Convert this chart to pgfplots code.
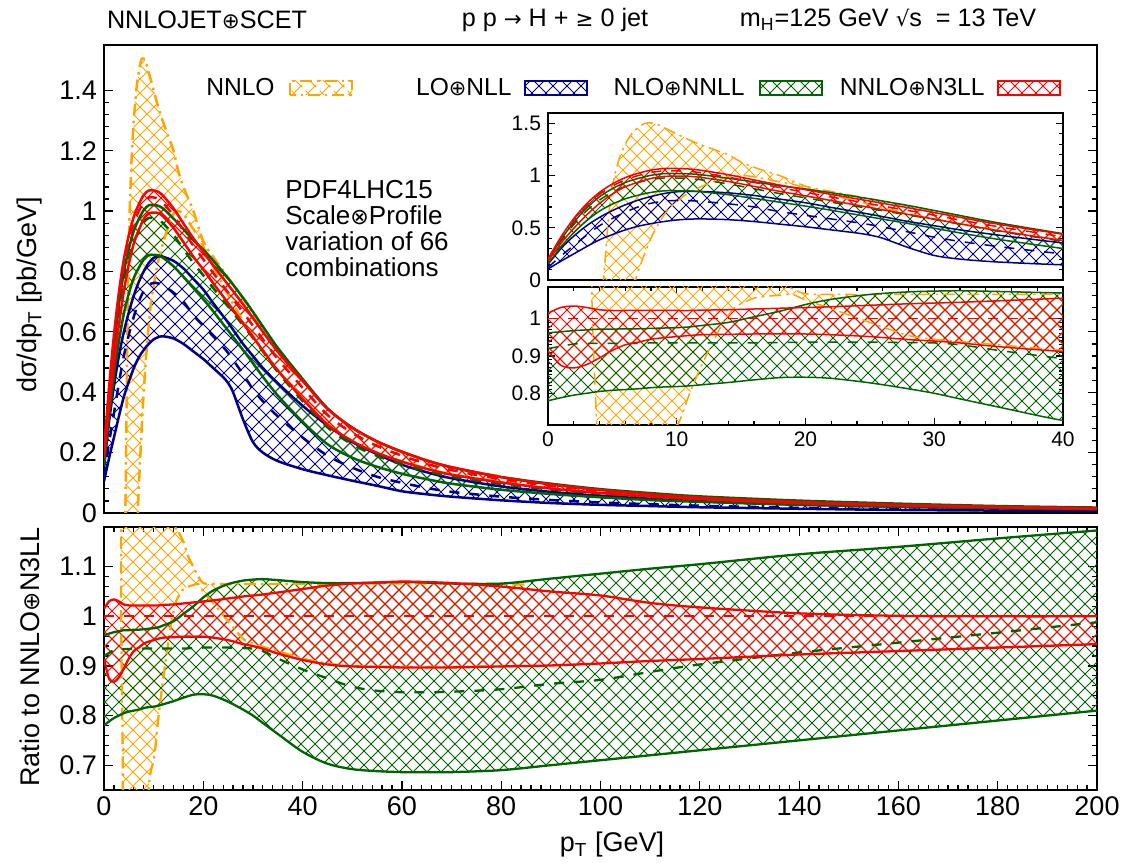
\documentclass[border=0pt]{standalone}
\usepackage{fontspec}
\setmainfont{Liberation Sans}
\newfontfamily\dv[Scale=0.85]{DejaVu Sans}
\usepackage{pgfplots}
\pgfplotsset{compat=1.18}
\usepackage{pgfplotstable}
\usepgfplotslibrary{fillbetween}
\usetikzlibrary{patterns}

\definecolor{cOr}{RGB}{255,165,0}
\definecolor{cBl}{RGB}{0,0,139}
\definecolor{cGr}{RGB}{0,100,0}
\definecolor{cRd}{RGB}{255,0,0}

\pgfdeclarepatternformonly{xhatch}{\pgfqpoint{-1pt}{-1pt}}{\pgfqpoint{8pt}{8pt}}{\pgfqpoint{7pt}{7pt}}{%
  \pgfsetlinewidth{0.5pt}%
  \pgfpathmoveto{\pgfqpoint{-0.1pt}{-0.1pt}}\pgfpathlineto{\pgfqpoint{7.1pt}{7.1pt}}%
  \pgfpathmoveto{\pgfqpoint{-0.1pt}{7.1pt}}\pgfpathlineto{\pgfqpoint{7.1pt}{-0.1pt}}%
  \pgfusepath{stroke}}

% ---------------- data ----------------
\pgfplotstableread{
x   rU     rL     rC     gU     gC     gL
0   0.203  0.183  0.200  0.192  0.184  0.156
1   0.412  0.350  0.400  0.386  0.370  0.315
2   0.589  0.495  0.570  0.552  0.531  0.453
3   0.731  0.623  0.710  0.689  0.663  0.568
4   0.840  0.734  0.820  0.797  0.766  0.660
5   0.920  0.824  0.900  0.875  0.841  0.727
6   0.981  0.893  0.960  0.934  0.897  0.778
7   1.022  0.937  1.000  0.973  0.934  0.812
8   1.053  0.973  1.030  1.003  0.963  0.839
9   1.068  0.992  1.045  1.019  0.977  0.854
10  1.068  0.995  1.045  1.020  0.977  0.855
11  1.063  0.993  1.040  1.017  0.972  0.853
12  1.049  0.981  1.025  1.007  0.958  0.844
14  1.009  0.944  0.985  0.975  0.921  0.817
16  0.959  0.897  0.935  0.940  0.874  0.782
18  0.910  0.849  0.885  0.903  0.828  0.745
20  0.865  0.806  0.840  0.872  0.787  0.708
22  0.820  0.761  0.795  0.836  0.745  0.668
25  0.756  0.695  0.730  0.777  0.684  0.604
28  0.692  0.628  0.665  0.713  0.622  0.540
30  0.646  0.583  0.620  0.666  0.580  0.496
32  0.600  0.538  0.575  0.618  0.535  0.451
35  0.534  0.472  0.510  0.547  0.467  0.389
40  0.438  0.378  0.415  0.444  0.371  0.302
45  0.345  0.293  0.325  0.347  0.284  0.228
50  0.282  0.238  0.265  0.283  0.227  0.183
55  0.237  0.199  0.222  0.237  0.189  0.153
60  0.203  0.170  0.190  0.203  0.161  0.130
65  0.174  0.146  0.163  0.174  0.138  0.112
70  0.152  0.127  0.142  0.151  0.120  0.097
80  0.119  0.101  0.112  0.119  0.096  0.077
90  0.0945 0.081  0.090  0.097  0.078  0.063
100 0.076  0.066  0.073  0.079  0.064  0.052
110 0.062  0.055  0.060  0.066  0.053  0.043
120 0.051  0.046  0.050  0.055  0.045  0.037
140 0.036  0.033  0.036  0.041  0.033  0.027
160 0.027  0.025  0.027  0.031  0.026  0.021
180 0.020  0.019  0.020  0.023  0.019  0.016
200 0.015  0.014  0.015  0.018  0.015  0.012
}\absRG

\pgfplotstableread{
x   bU     bC     bL
0   0.150  0.120  0.105
1   0.300  0.230  0.180
2   0.420  0.330  0.250
3   0.520  0.430  0.320
4   0.600  0.520  0.385
5   0.665  0.590  0.435
6   0.720  0.650  0.480
7   0.765  0.700  0.515
8   0.800  0.735  0.540
9   0.828  0.755  0.560
10  0.845  0.762  0.575
11  0.850  0.760  0.583
12  0.848  0.752  0.585
14  0.835  0.730  0.578
16  0.810  0.700  0.560
18  0.775  0.655  0.535
20  0.740  0.620  0.510
22  0.695  0.585  0.480
24  0.652  0.550  0.450
25  0.630  0.530  0.430
26  0.607  0.507  0.400
28  0.560  0.460  0.310
30  0.520  0.410  0.235
32  0.480  0.370  0.200
35  0.430  0.320  0.172
40  0.355  0.250  0.145
45  0.290  0.190  0.125
50  0.235  0.150  0.107
55  0.195  0.120  0.090
60  0.160  0.100  0.072
65  0.135  0.083  0.062
70  0.115  0.070  0.054
80  0.088  0.054  0.042
90  0.070  0.043  0.033
100 0.057  0.035  0.027
110 0.047  0.029  0.023
120 0.039  0.024  0.019
140 0.028  0.017  0.014
160 0.021  0.012  0.010
180 0.016  0.009  0.008
200 0.012  0.007  0.006
}\absB

\pgfplotstableread{
x    y
3.9  -0.30
4.3  0.00
4.7  0.60
5.0  0.90
5.5  1.15
6.0  1.30
6.5  1.40
7.0  1.46
7.5  1.50
8.0  1.505
8.5  1.49
9.0  1.46
10   1.40
11   1.34
12   1.29
13   1.245
14   1.20
15   1.13
16   1.08
17   1.04
18   1.00
20   0.90
22   0.848
25   0.78
28   0.71
30   0.66
32   0.612
35   0.543
40   0.442
45   0.346
50   0.282
55   0.236
60   0.202
70   0.151
85   0.107
}\nnloUp
\pgfplotstableread{
x    y
6.3  -0.30
6.8  0.00
7.5  0.25
8.0  0.40
8.5  0.52
9.0  0.62
9.5  0.70
10   0.75
10.5 0.80
11   0.84
12   0.90
13   0.95
14   0.99
15   1.00
16   0.99
17   0.965
18   0.94
19   0.918
20   0.882
22   0.816
25   0.723
28   0.635
30   0.586
32   0.539
35   0.474
40   0.380
45   0.294
50   0.2385
55   0.200
60   0.171
70   0.128
85   0.092
}\nnloLow

\pgfplotstableread{
x   ru     rl     gu     gc     gl
0   1.015  0.914  0.962  0.920  0.780
1   1.030  0.875  0.965  0.926  0.788
2   1.034  0.868  0.968  0.932  0.795
3   1.030  0.877  0.970  0.934  0.800
4   1.024  0.895  0.972  0.934  0.805
5   1.022  0.915  0.972  0.934  0.808
6   1.022  0.930  0.973  0.934  0.810
7   1.022  0.937  0.973  0.934  0.812
8   1.022  0.945  0.974  0.935  0.815
9   1.022  0.949  0.975  0.935  0.817
10  1.022  0.952  0.976  0.935  0.818
11  1.022  0.955  0.978  0.935  0.820
12  1.023  0.957  0.982  0.935  0.823
14  1.024  0.958  0.990  0.935  0.829
16  1.026  0.959  1.005  0.935  0.836
18  1.028  0.959  1.020  0.936  0.842
20  1.030  0.959  1.038  0.937  0.843
22  1.032  0.957  1.052  0.937  0.840
25  1.036  0.952  1.065  0.937  0.828
28  1.040  0.944  1.072  0.936  0.812
30  1.042  0.940  1.074  0.935  0.800
32  1.044  0.935  1.075  0.930  0.785
35  1.048  0.925  1.073  0.915  0.763
40  1.055  0.912  1.069  0.893  0.727
45  1.062  0.903  1.067  0.875  0.703
50  1.066  0.899  1.067  0.858  0.692
55  1.068  0.898  1.068  0.850  0.688
60  1.070  0.897  1.069  0.847  0.686
65  1.069  0.897  1.068  0.847  0.686
70  1.067  0.897  1.066  0.848  0.686
80  1.060  0.899  1.066  0.853  0.690
90  1.050  0.901  1.076  0.864  0.700
100 1.042  0.905  1.086  0.872  0.710
110 1.027  0.910  1.096  0.888  0.720
120 1.018  0.914  1.105  0.903  0.730
140 1.006  0.923  1.125  0.927  0.750
160 1.001  0.930  1.140  0.947  0.770
180 1.000  0.937  1.157  0.967  0.790
200 1.000  0.944  1.173  0.988  0.810
}\ratiotab

\pgfplotstableread{
x    y
3.5  0.30
3.8  0.65
4.1  1.30
14.0 1.30
14.4 1.18
15   1.17
16   1.15
17   1.12
18   1.10
19   1.08
20   1.067
22   1.065
30   1.065
40   1.065
50   1.066
60   1.066
70   1.066
85   1.064
}\nnloRUp
\pgfplotstableread{
x    y
3.5  0.30
8.5  0.40
9.0  0.65
10   0.71
10.5 0.75
11   0.80
12   0.88
13   0.95
13.7 0.995
14.5 1.03
15   1.04
16   1.055
17   1.06
18   1.063
19   1.065
20   1.05
22   1.027
25   0.99
28   0.955
30   0.945
35   0.93
40   0.915
45   0.905
50   0.90
60   0.898
70   0.898
85   0.90
}\nnloRLow

\pgfplotstableread{
x y
0 1
200 1
}\onetab

% ---------------- styles ----------------
\pgfplotsset{
  common/.style={scale only axis,
    axis line style={line width=0.9pt, black},
    every tick/.style={line width=0.6pt, black},
    /pgf/number format/assume math mode=true},
  nnlo/.style={cOr, dash pattern=on 6pt off 2.5pt on 1.2pt off 2.5pt},
  dsh/.style={dash pattern=on 5pt off 5pt},
}

\newcommand{\absbands}[2]{%
  \addplot[name path=#1nu, nnlo, line width=#2, smooth] table[x=x,y=y]{\nnloUp};
  \addplot[name path=#1nl, nnlo, line width=#2, smooth] table[x=x,y=y]{\nnloLow};
  \addplot[pattern=xhatch, pattern color=cOr] fill between[of=#1nu and #1nl];
  \addplot[name path=#1bu, cBl, line width=#2, smooth] table[x=x,y=bU]{\absB};
  \addplot[name path=#1bl, cBl, line width=#2, smooth] table[x=x,y=bL]{\absB};
  \addplot[pattern=xhatch, pattern color=cBl] fill between[of=#1bu and #1bl];
  \addplot[cBl, line width=#2, dsh, smooth] table[x=x,y=bC]{\absB};
  \addplot[name path=#1gu, cGr, line width=#2, smooth] table[x=x,y=gU]{\absRG};
  \addplot[name path=#1gl, cGr, line width=#2, smooth] table[x=x,y=gL]{\absRG};
  \addplot[pattern=xhatch, pattern color=cGr] fill between[of=#1gu and #1gl];
  \addplot[cGr, line width=#2, dsh, smooth] table[x=x,y=gC]{\absRG};
  \addplot[name path=#1ru, cRd, line width=#2, smooth] table[x=x,y=rU]{\absRG};
  \addplot[name path=#1rl, cRd, line width=#2, smooth] table[x=x,y=rL]{\absRG};
  \addplot[pattern=xhatch, pattern color=cRd] fill between[of=#1ru and #1rl];
  \addplot[cRd, line width=#2, dsh, smooth] table[x=x,y=rC]{\absRG};
}
\newcommand{\ratiobands}[2]{%
  \addplot[name path=#1nu, nnlo, line width=#2, smooth] table[x=x,y=y]{\nnloRUp};
  \addplot[name path=#1nl, nnlo, line width=#2, smooth] table[x=x,y=y]{\nnloRLow};
  \addplot[pattern=xhatch, pattern color=cOr] fill between[of=#1nu and #1nl];
  \addplot[name path=#1gu, cGr, line width=#2, smooth] table[x=x,y=gu]{\ratiotab};
  \addplot[name path=#1gl, cGr, line width=#2, smooth] table[x=x,y=gl]{\ratiotab};
  \addplot[pattern=xhatch, pattern color=cGr] fill between[of=#1gu and #1gl];
  \addplot[cGr, line width=#2, dsh, smooth] table[x=x,y=gc]{\ratiotab};
  \addplot[name path=#1ru, cRd, line width=#2, smooth] table[x=x,y=ru]{\ratiotab};
  \addplot[name path=#1rl, cRd, line width=#2, smooth] table[x=x,y=rl]{\ratiotab};
  \addplot[pattern=xhatch, pattern color=cRd] fill between[of=#1ru and #1rl];
  \addplot[cRd, line width=#2, dsh] table[x=x,y=y]{\onetab};
}

\begin{document}
\begin{tikzpicture}

% ---------- main panel ----------
\begin{axis}[common, at={(52pt,175pt)}, anchor=south west, width=496.5pt, height=234pt,
  xmin=0, xmax=200, ymin=0, ymax=1.55,
  xtick=\empty,
  ytick={0,0.2,0.4,0.6,0.8,1,1.2,1.4}, minor y tick num=4,
  major tick length=4.5pt, minor tick length=2.5pt,
  yticklabel style={font=\fontsize{13.5}{15}\selectfont}]
  \absbands{m}{1.25pt}
\end{axis}

% ---------- ratio panel ----------
\begin{axis}[common, at={(52pt,36.5pt)}, anchor=south west, width=496.5pt, height=131.5pt,
  xmin=0, xmax=200, ymin=0.65, ymax=1.18,
  xtick={0,20,...,200}, minor x tick num=9,
  ytick={0.7,0.8,0.9,1,1.1}, minor y tick num=4,
  major tick length=4.5pt, minor tick length=2.5pt,
  ticklabel style={font=\fontsize{13.5}{15}\selectfont}]
  \ratiobands{r}{1.15pt}
\end{axis}

% ---------- inset top ----------
\begin{axis}[common, at={(274pt,291.5pt)}, anchor=south west, width=257.5pt, height=83.5pt,
  xmin=0, xmax=40, ymin=0, ymax=1.6,
  xtick=\empty,
  ytick={0,0.5,1,1.5}, minor y tick num=4,
  major tick length=3.5pt, minor tick length=1.8pt,
  yticklabel style={font=\fontsize{10.5}{12}\selectfont}]
  \absbands{i}{0.75pt}
\end{axis}

% ---------- inset bottom ----------
\begin{axis}[common, at={(274pt,219pt)}, anchor=south west, width=257.5pt, height=69pt,
  xmin=0, xmax=40, ymin=0.715, ymax=1.085,
  xtick={0,10,20,30,40}, minor x tick num=4,
  ytick={0.8,0.9,1}, minor y tick num=9,
  major tick length=3.5pt, minor tick length=1.8pt,
  ticklabel style={font=\fontsize{10.5}{12}\selectfont}]
  \ratiobands{j}{0.75pt}
\end{axis}

% ---------- titles and labels ----------
\begin{scope}[every node/.style={font=\fontsize{12.6}{14}\selectfont, inner sep=0pt}]
\node at (103.5pt,421.5pt) {NNLOJET{\dv ⊕}SCET};
\node at (277.5pt,421.5pt) {p p {\dv →} H + {\dv ≥} 0 jet};
\node at (444pt,421.5pt) {m\textsubscript{H}=125 GeV {\dv √}s\ \ = 13 TeV};
\end{scope}
\begin{scope}[every node/.style={font=\fontsize{13.5}{15}\selectfont, inner sep=0pt}]
\node[rotate=90] at (15pt,284pt) {dσ/dp\textsubscript{T} [pb/GeV]};
\node[rotate=90] at (15pt,103pt) {Ratio to NNLO{\dv ⊕}N3LL};
\node at (306pt,9pt) {p\textsubscript{T} [GeV]};
\end{scope}

\begin{scope}[every node/.style={font=\fontsize{13}{15}\selectfont, inner sep=0pt, anchor=base west}]
\node at (142.5pt,332pt) {PDF4LHC15};
\node at (142.5pt,319pt) {Scale{\dv ⊗}Profile};
\node at (142.5pt,306pt) {variation of 66};
\node at (142.5pt,293pt) {combinations};
\end{scope}

% ---------- legend ----------
\begin{scope}[every node/.style={font=\fontsize{12.3}{14}\selectfont, inner sep=0pt, anchor=base east}]
\node at (137.5pt,383.5pt) {NNLO};
\node at (256pt,383.5pt) {LO{\dv ⊕}NLL};
\node at (372.5pt,383.5pt) {NLO{\dv ⊕}NNLL};
\node at (492.5pt,383.5pt) {NNLO{\dv ⊕}N3LL};
\end{scope}
\draw[cOr, line width=1pt, dash pattern=on 6pt off 2.5pt on 1.2pt off 2.5pt, pattern=xhatch, pattern color=cOr] (145pt,384pt) rectangle (176pt,391pt);
\draw[cBl, line width=1.2pt, pattern=xhatch, pattern color=cBl] (262.5pt,384pt) rectangle (293.5pt,391pt);
\draw[cGr, line width=1.2pt, pattern=xhatch, pattern color=cGr] (380pt,384pt) rectangle (411pt,391pt);
\draw[cRd, line width=1.2pt, pattern=xhatch, pattern color=cRd] (499pt,384pt) rectangle (530pt,391pt);

\pgfresetboundingbox
\useasboundingbox (0,0) rectangle (563pt,431.5pt);
\end{tikzpicture}
\end{document}
